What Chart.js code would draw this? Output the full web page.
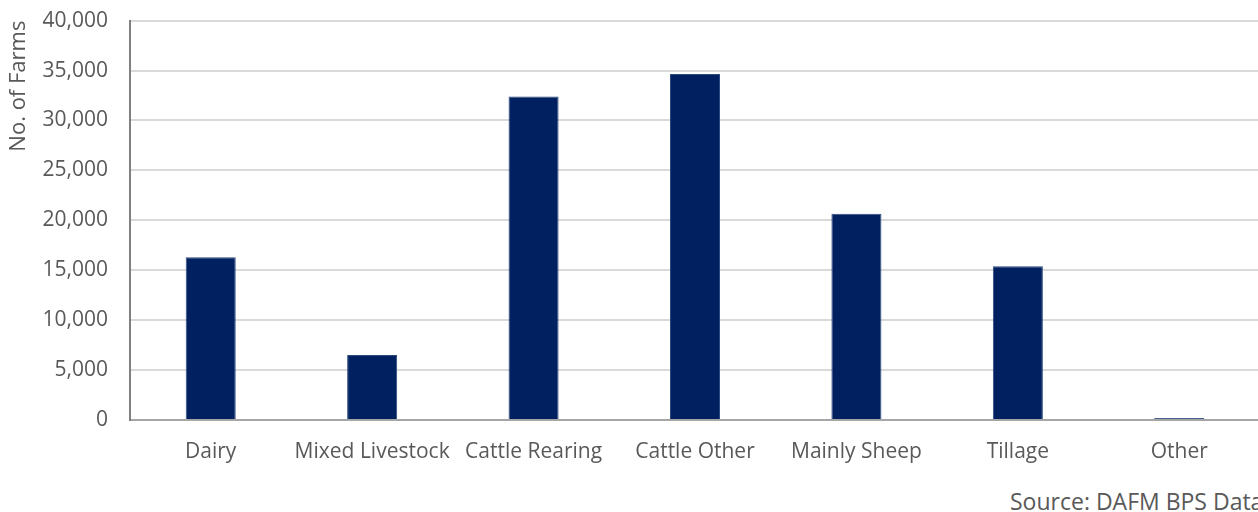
<!DOCTYPE html>
<html>
<head>
<meta charset="utf-8">
<script src="https://cdn.jsdelivr.net/npm/chart.js@4"></script>
<style>
  html, body { margin: 0; padding: 0; background: #fff; overflow: hidden; }
  #wrap { position: relative; width: 1260px; height: 512px; }
  #box { position: absolute; left: 0; top: -14px; width: 1260px; height: 494px; }
  #source {
    position: absolute; left: 1010px; top: 485px; white-space: nowrap;
    font-family: 'Open Sans', sans-serif; font-size: 23px; color: #595959;
  }
</style>
</head>
<body>
<div id="wrap">
  <div id="box"><canvas id="chart"></canvas></div>
  <div id="source">Source: DAFM BPS Data</div>
</div>
<script>
// Data
var categories = ['Dairy', 'Mixed Livestock', 'Cattle Rearing', 'Cattle Other', 'Mainly Sheep', 'Tillage', 'Other'];
var farms = [16300, 6500, 32400, 34650, 20650, 15400, 200];
var yTicks = [0, 5000, 10000, 15000, 20000, 25000, 30000, 35000, 40000];

var textColor = '#595959';
var fontFamily = "'Open Sans', sans-serif";

new Chart(document.getElementById('chart'), {
  type: 'bar',
  data: {
    labels: categories,
    datasets: [{
      data: farms,
      backgroundColor: '#002060',
      borderColor: '#2b4a80',
      borderWidth: 1,
      categoryPercentage: 1,
      barPercentage: 0.31
    }]
  },
  options: {
    responsive: true,
    maintainAspectRatio: false,
    animation: false,
    layout: { padding: { top: 6, right: 0, left: 0, bottom: 0 } },
    plugins: {
      legend: { display: false },
      tooltip: { enabled: false }
    },
    scales: {
      x: {
        grid: { display: false, drawTicks: false },
        border: { color: '#a6a6a6', width: 2 },
        ticks: {
          color: textColor,
          font: { family: fontFamily, size: 21 },
          padding: 19,
          maxRotation: 0,
          autoSkip: false
        },
        afterFit: function (axis) { axis.height = 60; }
      },
      y: {
        min: 0,
        max: 40000,
        afterBuildTicks: function (axis) {
          axis.ticks = yTicks.map(function (v) { return { value: v }; });
        },
        grid: { color: '#d9d9d9', lineWidth: 2, drawTicks: false },
        border: { color: '#808080', width: 2 },
        ticks: {
          color: textColor,
          font: { family: fontFamily, size: 21 },
          padding: 22,
          callback: function (v) { return v.toLocaleString('en-US'); }
        },
        title: {
          display: true,
          text: 'No. of Farms',
          align: 'end',
          color: textColor,
          font: { family: fontFamily, size: 22 },
          padding: { top: 6, bottom: 0 }
        },
        afterFit: function (axis) { axis.width = 130; }
      }
    }
  }
});
</script>
</body>
</html>
